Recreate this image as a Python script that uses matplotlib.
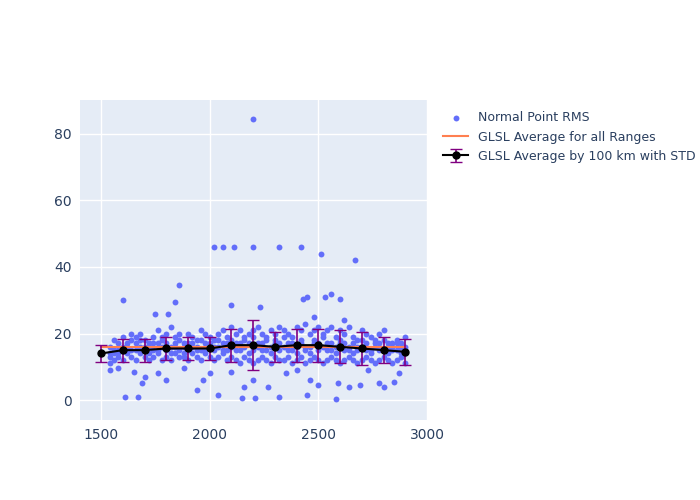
import matplotlib
matplotlib.use("Agg")
import matplotlib.pyplot as plt

band_x = [1540,1560,1580,1600,1620,1640,1660,1680,1700,1720,1740,1760,1780,1800,1820,1840,1860,1880,1900,1920,
          1940,1960,1980,2000,2020,2040,2060,2080,2100,2120,2140,2160,2180,2200,2220,2240,2260,2280,2300,2320,
          2340,2360,2380,2400,2420,2440,2460,2480,2500,2520,2540,2560,2580,2600,2620,2640,2660,2680,2700,2720,
          2740,2760,2780,2800,2820,2840,2860,2880,2900]
band_y1 = [13,14,15,16,17,18,19,20,18,17,19,21,18,20,22,19,18,17,20,19,
           18,21,20,19,18,20,21,19,22,20,21,19,20,21,22,20,19,21,20,22,
           21,20,19,22,21,23,20,21,22,20,21,22,19,21,20,22,19,18,21,20,
           19,18,20,21,17,16,18,17,19]
band_y2 = [11,12,13,12,14,13,12,14,13,12,13,14,12,13,12,14,13,13,12,14,
           13,12,14,13,12,13,14,12,13,12,11,13,12,11,12,13,12,11,13,12,
           12,13,11,12,13,11,12,13,12,11,12,13,12,11,12,13,12,11,12,13,
           12,11,12,13,12,11,12,13,14]
band_y3 = [16,15,17,15,16,15,17,16,15,16,15,17,16,15,16,17,15,16,15,17,
           16,15,17,16,15,16,17,15,16,17,15,16,17,15,16,17,15,16,17,15,
           16,17,15,16,17,15,16,17,15,16,17,15,16,17,15,16,17,15,16,17,
           15,16,17,15,16,17,15,16,15]
band_y4 = [14,18,14,19,15,20,15,18,16,14,17,15,19,17,14,16,20,14,17,16,
           15,18,15,17,16,18,15,17,18,15,17,18,14,19,17,15,18,14,18,17,
           19,15,17,14,18,16,14,18,17,19,15,17,14,18,17,15,14,16,18,15,
           14,17,15,18,14,15,17,14,16]
out_x = [2200,2020,2060,2110,2200,2320,2420,2510,2670,1860,1840,1600,2560,2600,2430,2450,2530,2230,2100,1750,
         1810,2480,2620,1610,1670,2150,2210,2320,2450,2580,2040,1940,2100,2160,2270,1690,2640,2690,2780,2850,
         1700,1800,1880,1970,2200,2350,2460,2500,2590,2800,2870,1540,1580,1650,1760,2000,2400,2730,2900]
out_y = [84.5,46,46,46,46,46,46,44,42,34.5,29.5,30,32,30.5,30.5,31,31,28,28.5,26,
         26,25,24,1,1,0.5,0.5,1,1.5,0.3,1.5,3,8.5,4,4,5,4,4.5,5,5.5,
         7,6,9.5,6,6,8,6,4.5,5,4,8,9,9.5,8.5,8,8,9,9,11]

avg_x = [1500,1600,1700,1800,1900,2000,2100,2200,2300,2400,2500,2600,2700,2800,2900]
avg_y = [14,15,15,15.5,15.5,15.5,16.5,16.5,16,16.5,16.5,16,15.5,15,14.5]
avg_std = [2.5,3.5,3.5,3.5,3.5,3.5,5,7.5,4.5,5,5,5,5,4,4]
overall_x = [1500,2900]
overall_y = [15.8,15.8]

fig = plt.figure(figsize=(7,5), dpi=100)
ax = fig.add_axes([80/700, 80/500, 347/700, 320/500])
ax.set_facecolor("#e5ecf6")
for s in ax.spines.values():
    s.set_visible(False)
ax.grid(True, color="white", linewidth=1)
ax.set_axisbelow(True)

sx = band_x*4 + out_x
sy = band_y1 + band_y2 + band_y3 + band_y4 + out_y
ax.scatter(sx, sy, s=18, color="#636efa", linewidths=0, label="Normal Point RMS", zorder=2)
ax.errorbar(avg_x, avg_y, yerr=avg_std, color="black", marker="o", markersize=5,
            ecolor="#800080", elinewidth=1.2, capsize=4, linewidth=1.5,
            label="GLSL Average by 100 km with STD", zorder=4)
ax.plot(overall_x, overall_y, color="#ff7f50", linewidth=1.5, label="GLSL Average for all Ranges", zorder=3)

ax.set_xlim(1403, 3000)
ax.set_ylim(-6, 90.2)
ax.set_xticks([1500,2000,2500,3000])
ax.set_yticks([0,20,40,60,80])
ax.tick_params(length=0, labelsize=10, colors="#2a3f5f", pad=6)

leg = fig.legend(loc="upper left", bbox_to_anchor=(432/700, 1-100/500), frameon=False,
                 fontsize=9, labelcolor="#2a3f5f")
fig.savefig("out.png")
